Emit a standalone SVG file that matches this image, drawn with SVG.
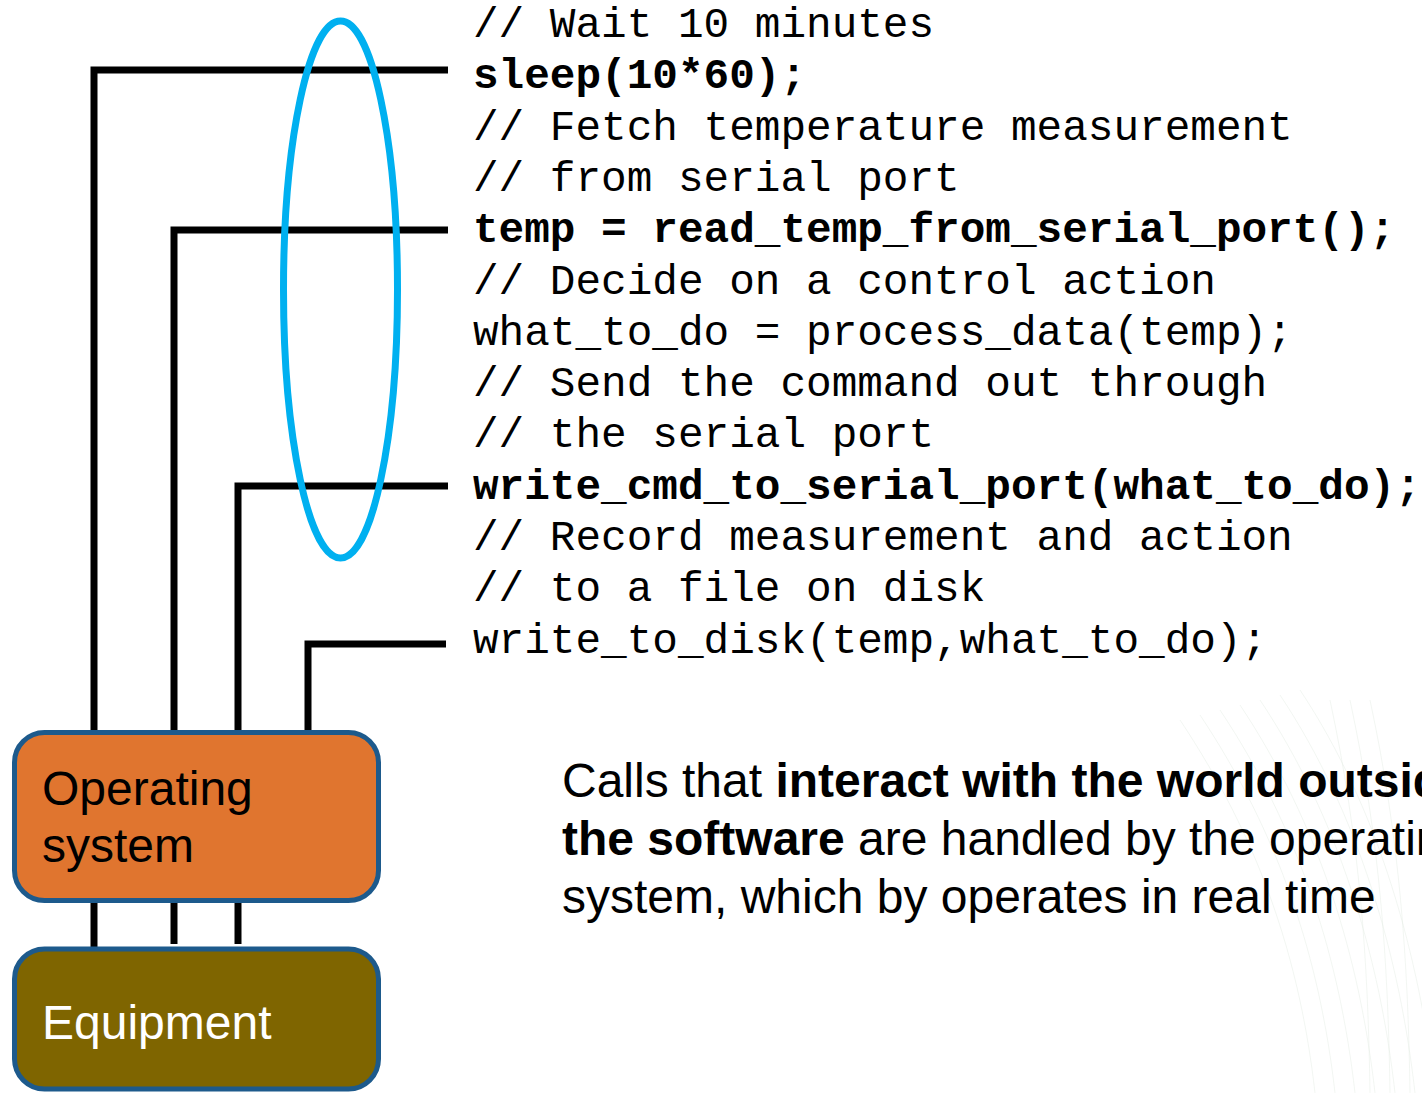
<svg xmlns="http://www.w3.org/2000/svg" width="1422" height="1093" viewBox="0 0 1422 1093">
  <style>
    .code { font-family: "Liberation Mono", "Courier New", monospace; font-size: 42.7px; fill: #000; }
    .code.b { font-weight: bold; }
    .wire { fill: none; stroke: #000; stroke-width: 7; stroke-linejoin: miter; stroke-linecap: butt; }
    .box { stroke: #1D5A8C; stroke-width: 5; }
    .lbl { font-family: "Liberation Sans", Arial, sans-serif; font-size: 48px; }
    .note { font-family: "Liberation Sans", Arial, sans-serif; font-size: 48px; fill: #000; }
    .wave { fill: none; stroke: #e3ebe3; stroke-width: 1; opacity: 0.45; }
  </style>

  <rect width="1422" height="1093" fill="#ffffff"/>

  <!-- faint decorative wave mesh, lower right -->
  <g id="backdrop">
    <path class="wave" d="M1180 720 C1260 840 1300 960 1315 1093"/>
    <path class="wave" d="M1200 715 C1280 835 1320 960 1335 1093"/>
    <path class="wave" d="M1220 710 C1300 830 1340 960 1355 1093"/>
    <path class="wave" d="M1240 705 C1320 825 1360 960 1375 1093"/>
    <path class="wave" d="M1260 700 C1340 820 1380 960 1395 1093"/>
    <path class="wave" d="M1280 695 C1360 815 1400 960 1415 1093"/>
    <path class="wave" d="M1300 690 C1380 810 1420 960 1435 1093"/>
    <path class="wave" d="M1330 700 C1360 840 1368 960 1370 1093"/>
    <path class="wave" d="M1350 700 C1380 840 1388 960 1390 1093"/>
    <path class="wave" d="M1370 700 C1400 840 1408 960 1410 1093"/>
  </g>

  <!-- code listing -->
  <g id="code">
    <text class="code" x="473" y="37">// Wait 10 minutes</text>
    <text class="code b" x="473" y="88.3">sleep(10*60);</text>
    <text class="code" x="473" y="139.6">// Fetch temperature measurement</text>
    <text class="code" x="473" y="190.9">// from serial port</text>
    <text class="code b" x="473" y="242.2">temp = read_temp_from_serial_port();</text>
    <text class="code" x="473" y="293.5">// Decide on a control action</text>
    <text class="code" x="473" y="344.8">what_to_do = process_data(temp);</text>
    <text class="code" x="473" y="396.1">// Send the command out through</text>
    <text class="code" x="473" y="447.4">// the serial port</text>
    <text class="code b" x="473" y="498.7">write_cmd_to_serial_port(what_to_do);</text>
    <text class="code" x="473" y="550">// Record measurement and action</text>
    <text class="code" x="473" y="601.3">// to a file on disk</text>
    <text class="code" x="473" y="652.6">write_to_disk(temp,what_to_do);</text>
  </g>

  <!-- connectors from the OS to each call, and down to the equipment -->
  <g id="connectors">
    <path class="wire" d="M94 733 V70 H448"/>
    <path class="wire" d="M174 733 V230 H448"/>
    <path class="wire" d="M238 733 V486 H448"/>
    <path class="wire" d="M308 733 V644 H446"/>
    <path class="wire" d="M94 901 V949"/>
    <path class="wire" d="M174 901 V944"/>
    <path class="wire" d="M238 901 V944"/>
  </g>

  <!-- highlight around the system calls -->
  <g id="highlight">
    <ellipse cx="340.5" cy="289.5" rx="57" ry="268.5" fill="none" stroke="#00B0F0" stroke-width="7"/>
  </g>

  <g id="os">
    <rect class="box" x="14.5" y="732.5" width="364" height="168" rx="30" fill="#E0752F"/>
    <text class="lbl" x="42" y="805" fill="#000">Operating</text>
    <text class="lbl" x="42" y="862" fill="#000">system</text>
  </g>

  <g id="equipment">
    <rect class="box" x="14.5" y="949" width="364" height="140" rx="30" fill="#7F6500"/>
    <text class="lbl" x="42" y="1039" fill="#fff">Equipment</text>
  </g>

  <g id="note">
    <text class="note" x="562" y="797">Calls that <tspan font-weight="bold">interact with the world outside</tspan></text>
    <text class="note" x="562" y="855"><tspan font-weight="bold">the software</tspan> are handled by the operating</text>
    <text class="note" x="562" y="913">system, which by operates in real time</text>
  </g>
</svg>
